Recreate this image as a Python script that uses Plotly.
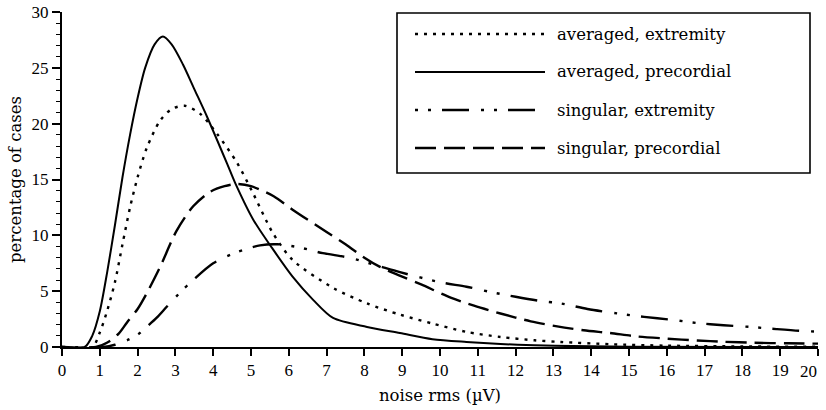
import plotly.graph_objects as go

# ---- data ----
x_avg_ext = [0, 0.8, 1.0, 1.2, 1.4, 1.6, 1.8, 2.0, 2.24, 2.6, 2.9, 3.25, 3.65, 4.1, 4.63, 5.05, 5.58,
             6.1, 7.17, 8.07, 8.94, 9.8, 10.7, 11.6, 12.5, 13.2, 14.5, 16, 18, 20]
y_avg_ext = [0, 0, 1.3, 3.3, 5.8, 9.2, 12.5, 15.2, 17.8, 20.3, 21.3, 21.6, 20.9, 19.1, 16.5, 13.8, 10.2,
             7.8, 5.3, 3.9, 2.9, 2.1, 1.35, 0.9, 0.6, 0.45, 0.25, 0.12, 0.05, 0.02]

x_avg_pre = [0, 0.6, 0.8, 1.0, 1.2, 1.4, 1.6, 1.8, 2.0, 2.2, 2.45, 2.67, 2.9, 3.2, 3.5, 3.84, 4.37,
             4.58, 5.06, 5.55, 6.1, 6.65, 7.17, 8.07, 8.94, 9.8, 10.7, 11.6, 12.5, 13.5, 15, 20]
y_avg_pre = [0, 0, 1.0, 3.2, 6.8, 10.9, 15.2, 19.0, 22.3, 25.0, 27.1, 27.8, 27.1, 25.3, 23.1, 20.6, 16.4,
             14.7, 11.4, 8.9, 6.3, 4.2, 2.6, 1.8, 1.25, 0.7, 0.45, 0.27, 0.15, 0.08, 0.03, 0]

x_sin_ext = [0, 1.1, 1.4, 1.72, 2.0, 2.24, 2.5, 2.77, 3.1, 3.47, 4.0, 4.63, 5.24, 5.7, 6.3, 6.9, 7.6,
             8.33, 8.94, 10.0, 10.7, 11.3, 12.0, 12.7, 13.2, 13.9, 14.7, 15.4, 16.1, 16.8, 17.5,
             18.2, 18.9, 19.5, 20]
y_sin_ext = [0, 0, 0.2, 0.6, 1.1, 1.8, 2.6, 3.6, 4.8, 6.0, 7.5, 8.5, 9.1, 9.2, 8.9, 8.4, 8.0,
             7.3, 6.7, 5.8, 5.4, 4.95, 4.5, 4.1, 3.9, 3.4, 3.0, 2.7, 2.45, 2.15, 1.95,
             1.8, 1.6, 1.45, 1.38]

x_sin_pre = [0, 0.9, 1.2, 1.5, 1.72, 2.0, 2.24, 2.6, 3.03, 3.47, 3.92, 4.3, 4.63, 5.0, 5.6, 6.1, 7.0,
             7.5, 8.0, 8.4, 9.0, 9.5, 10.3, 10.9, 11.6, 12.4, 13.1, 13.8, 14.5, 15.2, 16.0, 16.8,
             17.5, 18.3, 19.2, 20]
y_sin_pre = [0, 0, 0.4, 1.2, 2.2, 3.4, 4.8, 7.2, 10.4, 12.6, 13.9, 14.4, 14.6, 14.4, 13.5, 12.3, 10.3,
             9.2, 8.0, 7.2, 6.3, 5.6, 4.4, 3.7, 3.0, 2.3, 1.85, 1.5, 1.25, 0.95, 0.75, 0.58,
             0.47, 0.38, 0.33, 0.3]

series_names = ["averaged, extremity", "averaged, precordial",
                "singular, extremity", "singular, precordial"]
x_ticks = list(range(0, 21))
# the last label ("20") sits left of its tick in the original; it is drawn as an annotation below
x_ticktext = [str(t) for t in x_ticks[:-1]] + [""]

# ---- styles ----
FONT = "DejaVu Serif"
TICKFONT = "Liberation Serif"
dashes = ["3px,6px", "solid", "3px,10px,3px,11px,27px,12px", "21px,8px"]
widths = [2.4, 2.0, 2.4, 2.4]
xs = [x_avg_ext, x_avg_pre, x_sin_ext, x_sin_pre]
ys = [y_avg_ext, y_avg_pre, y_sin_ext, y_sin_pre]

fig = go.Figure()
for name, x, y, d, w in zip(series_names, xs, ys, dashes, widths):
    fig.add_trace(go.Scatter(x=x, y=y, mode="lines", name=name, showlegend=False,
                             line=dict(color="black", width=w, dash=d,
                                       shape="spline", smoothing=0.8)))

# ---- layout geometry ----
W, H = 826, 410
L, R, T, B = 62, 8, 12, 63
pw, ph = W - L - R, H - T - B

def px_to_paper_x(px):
    return (px - L) / pw

def px_to_paper_y(py):
    return (H - B - py) / ph

# ---- custom legend box (long line samples like the original) ----
shapes = [dict(type="rect", xref="paper", yref="paper",
               x0=px_to_paper_x(397), x1=px_to_paper_x(810),
               y0=px_to_paper_y(173), y1=px_to_paper_y(13),
               line=dict(color="black", width=1.6), fillcolor="white", layer="above")]
annotations = []
legend_rows = [34, 72, 110, 148]
for name, d, w, py in zip(series_names, dashes, widths, legend_rows):
    yp = px_to_paper_y(py)
    shapes.append(dict(type="line", xref="paper", yref="paper",
                       x0=px_to_paper_x(415), x1=px_to_paper_x(545), y0=yp, y1=yp,
                       line=dict(color="black", width=w, dash=d), layer="above"))
    annotations.append(dict(xref="paper", yref="paper", x=px_to_paper_x(555), y=yp,
                            text=name, showarrow=False, xanchor="left", yanchor="middle",
                            font=dict(family=FONT, size=16.5, color="black")))

# last x tick label, right-aligned to its tick
annotations.append(dict(xref="x", yref="paper", x=x_ticks[-1], y=px_to_paper_y(371),
                        text=str(x_ticks[-1]), showarrow=False, xanchor="right",
                        yanchor="middle", xshift=1,
                        font=dict(family=TICKFONT, size=17, color="black")))

fig.update_layout(
    width=W, height=H,
    margin=dict(l=L, r=R, t=T, b=B),
    paper_bgcolor="white", plot_bgcolor="white",
    font=dict(family=FONT, size=16.5, color="black"),
    shapes=shapes, annotations=annotations,
    xaxis=dict(range=[0, 20], tickmode="array", tickvals=x_ticks,
               ticktext=x_ticktext, automargin=False,
               ticklabeloverflow="allow",
               tickfont=dict(family=TICKFONT, size=17),
               ticks="outside", ticklen=7, tickwidth=1.5, tickcolor="black",
               showline=True, linecolor="black", linewidth=2,
               showgrid=False, zeroline=False,
               title=dict(text="noise rms (µV)", standoff=10,
                          font=dict(family=FONT, size=16.5))),
    yaxis=dict(range=[0, 30], dtick=5, tick0=0, automargin=False,
               ticklabeloverflow="allow",
               tickfont=dict(family=TICKFONT, size=17),
               ticks="outside", ticklen=8, tickwidth=1.5, tickcolor="black",
               minor=dict(dtick=1, ticks="outside", ticklen=4, tickwidth=1, tickcolor="black"),
               showline=True, linecolor="black", linewidth=2,
               showgrid=False, zeroline=False,
               title=dict(text="percentage of cases", standoff=6,
                          font=dict(family=FONT, size=16.5))),
)

# remove the default page margin so the figure sits at the window's top-left corner
fig.write_html("out.html", config={"displayModeBar": False},
               post_script="document.body.style.margin='0';")
